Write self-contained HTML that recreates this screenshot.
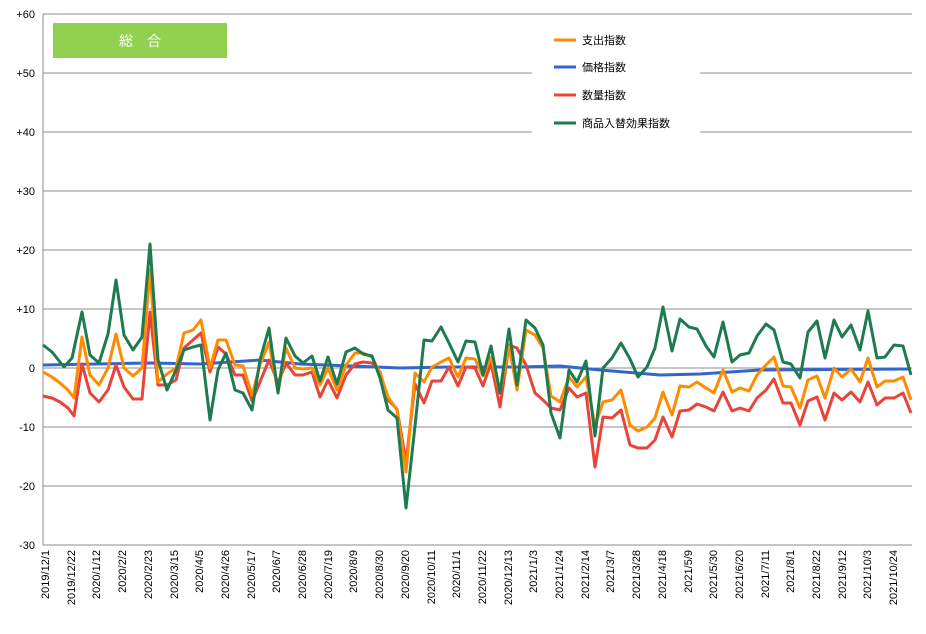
<!DOCTYPE html><html><head><meta charset="utf-8"><style>body{margin:0;background:#fff}svg{display:block;font-family:"Liberation Sans","Noto Sans CJK JP",sans-serif}</style></head><body>
<svg width="926" height="634" viewBox="0 0 926 634">
<g stroke="#8c8c8c" stroke-width="1">
<line x1="43" y1="14" x2="912" y2="14"/><line x1="43" y1="73" x2="532" y2="73"/><line x1="700" y1="73" x2="912" y2="73"/>
<line x1="43" y1="132" x2="532" y2="132"/><line x1="700" y1="132" x2="912" y2="132"/><line x1="43" y1="191" x2="912" y2="191"/>
<line x1="43" y1="250" x2="912" y2="250"/><line x1="43" y1="309" x2="912" y2="309"/><line x1="43" y1="368" x2="912" y2="368"/>
<line x1="43" y1="427" x2="912" y2="427"/><line x1="43" y1="486" x2="912" y2="486"/><line x1="43" y1="545" x2="912" y2="545"/>
<line x1="43" y1="14" x2="43" y2="545"/>
</g>
<g font-size="11" fill="#000" text-anchor="end">
<text x="35" y="18">+60</text><text x="35" y="77">+50</text><text x="35" y="136">+40</text><text x="35" y="195">+30</text><text x="35" y="254">+20</text><text x="35" y="313">+10</text><text x="35" y="372">0</text><text x="35" y="431">-10</text><text x="35" y="490">-20</text><text x="35" y="549">-30</text>
</g>
<rect x="53" y="23" width="174" height="35" fill="#92d050"/>
<text x="140" y="46" font-size="14" fill="#fff" text-anchor="middle">総　合</text>
<g font-size="11" fill="#000">
<line x1="554" y1="40" x2="576" y2="40" stroke="#ff8c00" stroke-width="3"/><text x="582" y="44">支出指数</text>
<line x1="554" y1="67" x2="576" y2="67" stroke="#3366cc" stroke-width="3"/><text x="582" y="71">価格指数</text>
<line x1="554" y1="95" x2="576" y2="95" stroke="#e8443a" stroke-width="3"/><text x="582" y="99">数量指数</text>
<line x1="554" y1="123" x2="576" y2="123" stroke="#1e7b4f" stroke-width="3"/><text x="582" y="127">商品入替効果指数</text>
</g>
<g fill="none" stroke-width="3" stroke-linejoin="round">
<polyline stroke="#3366cc" points="43,365 150,363 200,364 260,360 300,364 400,368 450,367 520,367 560,366 600,370 660,375 700,374 760,370 911,369"/>
<polyline stroke="#e8443a" points="43,396 52,398 60,402 68,408 74,416 82,364 90,393 99,402 108,390 116,365 124,387 133,399 142,399 150,312 158,385 167,385 176,380 184,348 193,340 201,333 210,372 218,347 226,354 235,375 243,375 252,401 260,382 269,360 278,383 286,363 295,375 303,375 312,372 320,397 328,380 337,398 346,375 355,364 363,362 372,363 380,372 388,400 397,409 406,462 415,384 424,403 432,381 441,381 449,367 458,386 466,367 475,368 483,386 491,363 500,407 509,345 517,348 526,365 535,393 543,400 551,408 560,410 569,388 577,397 586,393 595,467 603,417 612,418 621,410 630,445 638,448 647,448 655,440 663,417 672,437 680,411 689,410 697,404 706,407 714,411 723,392 732,411 740,408 749,411 757,398 766,390 774,379 783,403 791,403 800,425 808,401 817,397 825,420 834,393 842,400 851,392 860,402 868,382 877,405 885,398 894,398 903,393 911,413"/>
<polyline stroke="#ff8c00" points="43,372 52,377 60,383 68,390 74,398 82,337 90,375 99,385 108,368 116,334 124,368 133,376 142,368 150,270 158,382 167,374 176,368 184,333 193,330 201,320 210,368 218,340 226,340 235,365 243,366 252,395 260,365 269,342 278,392 286,348 295,368 303,369 312,368 320,385 328,368 337,390 346,365 355,353 363,353 372,357 380,373 388,397 397,410 406,472 415,373 424,382 432,367 441,362 449,358 458,377 466,358 475,359 483,376 491,357 500,393 509,346 517,390 526,330 535,335 543,348 551,396 560,402 569,377 577,387 586,377 595,426 603,402 612,400 621,390 630,425 638,431 647,427 655,418 663,392 672,415 680,386 689,387 697,382 706,388 714,393 723,370 732,392 740,388 749,391 757,375 766,365 774,357 783,386 791,387 800,408 808,380 817,376 825,398 834,368 842,377 851,369 860,382 868,358 877,387 885,381 894,381 903,377 911,400"/>
<polyline stroke="#1e7b4f" points="43,345 52,352 64,367 72,358 82,312 90,355 99,363 108,334 116,280 124,335 133,350 142,337 150,244 158,360 167,390 176,370 184,350 193,347 201,345 210,420 218,370 226,353 235,390 243,393 252,410 260,360 269,328 278,393 286,338 295,356 303,363 312,356 320,381 328,357 337,384 346,352 355,348 363,354 372,356 380,378 388,410 397,418 406,508 415,426 424,340 432,341 441,327 449,343 458,362 466,341 475,342 483,375 491,346 500,393 509,329 517,385 526,320 535,328 543,345 551,413 560,438 569,370 577,382 586,361 595,436 603,368 612,358 621,343 630,359 638,377 647,367 655,348 663,307 672,351 680,319 689,327 697,329 706,346 714,357 723,322 732,362 740,355 749,353 757,336 766,324 774,330 783,362 791,364 800,378 808,332 817,321 825,358 834,320 842,337 851,325 860,350 868,311 877,358 885,357 894,345 903,346 911,375"/>
</g>
<g font-size="11" fill="#000" text-anchor="end" id="xl"></g>
<g font-size="11" fill="#000" text-anchor="end">
<text transform="translate(49,550) rotate(-90)">2019/12/1</text>
<text transform="translate(75,550) rotate(-90)">2019/12/22</text>
<text transform="translate(100,550) rotate(-90)">2020/1/12</text>
<text transform="translate(126,550) rotate(-90)">2020/2/2</text>
<text transform="translate(152,550) rotate(-90)">2020/2/23</text>
<text transform="translate(178,550) rotate(-90)">2020/3/15</text>
<text transform="translate(203,550) rotate(-90)">2020/4/5</text>
<text transform="translate(229,550) rotate(-90)">2020/4/26</text>
<text transform="translate(255,550) rotate(-90)">2020/5/17</text>
<text transform="translate(280,550) rotate(-90)">2020/6/7</text>
<text transform="translate(306,550) rotate(-90)">2020/6/28</text>
<text transform="translate(332,550) rotate(-90)">2020/7/19</text>
<text transform="translate(357,550) rotate(-90)">2020/8/9</text>
<text transform="translate(383,550) rotate(-90)">2020/8/30</text>
<text transform="translate(409,550) rotate(-90)">2020/9/20</text>
<text transform="translate(435,550) rotate(-90)">2020/10/11</text>
<text transform="translate(460,550) rotate(-90)">2020/11/1</text>
<text transform="translate(486,550) rotate(-90)">2020/11/22</text>
<text transform="translate(512,550) rotate(-90)">2020/12/13</text>
<text transform="translate(537,550) rotate(-90)">2021/1/3</text>
<text transform="translate(563,550) rotate(-90)">2021/1/24</text>
<text transform="translate(589,550) rotate(-90)">2021/2/14</text>
<text transform="translate(614,550) rotate(-90)">2021/3/7</text>
<text transform="translate(640,550) rotate(-90)">2021/3/28</text>
<text transform="translate(666,550) rotate(-90)">2021/4/18</text>
<text transform="translate(692,550) rotate(-90)">2021/5/9</text>
<text transform="translate(717,550) rotate(-90)">2021/5/30</text>
<text transform="translate(743,550) rotate(-90)">2021/6/20</text>
<text transform="translate(769,550) rotate(-90)">2021/7/11</text>
<text transform="translate(794,550) rotate(-90)">2021/8/1</text>
<text transform="translate(820,550) rotate(-90)">2021/8/22</text>
<text transform="translate(846,550) rotate(-90)">2021/9/12</text>
<text transform="translate(871,550) rotate(-90)">2021/10/3</text>
<text transform="translate(897,550) rotate(-90)">2021/10/24</text>
</g>
</svg></body></html>
